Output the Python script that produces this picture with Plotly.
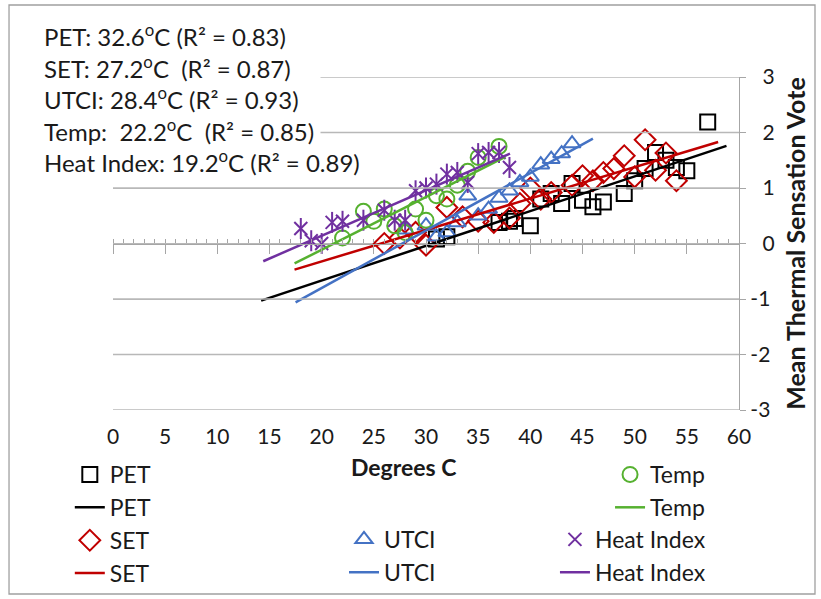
import plotly.graph_objects as go

# ---------------- data ----------------
pet_x = [31, 32, 37, 38, 38.5, 40, 41, 42, 43, 44, 45, 46, 47, 49, 50, 51, 52, 53, 54, 55, 57]
pet_y = [0.08, 0.12, 0.38, 0.40, 0.45, 0.32, 0.80, 0.90, 0.72, 1.08, 0.78, 0.66, 0.75, 0.90, 1.13, 1.35, 1.64, 1.50, 1.37, 1.31, 2.19]

set_x = [26, 27.5, 29, 30, 32, 33.5, 35, 36.5, 38, 39, 40, 41, 42, 44, 45, 46, 47, 48, 49, 50, 51, 52, 53, 54]
set_y = [0.0, 0.10, 0.20, -0.03, 0.65, 0.48, 0.40, 0.38, 0.46, 0.72, 1.0, 0.80, 0.92, 1.05, 1.22, 1.13, 1.28, 1.35, 1.58, 1.20, 1.87, 1.32, 1.63, 1.13]

utci_x = [28, 30, 31, 32, 33, 34, 35, 36, 37, 38, 39, 40, 41, 42, 43, 44]
utci_y = [0.25, 0.32, 0.12, 0.20, 0.38, 0.86, 0.50, 0.62, 0.82, 0.95, 1.10, 1.20, 1.42, 1.52, 1.62, 1.80]

temp_x = [22, 24, 25, 26, 27, 28, 29, 30, 31, 32, 33, 34, 35, 37]
temp_y = [0.10, 0.58, 0.40, 0.62, 0.32, 0.20, 0.62, 0.42, 0.86, 0.80, 1.05, 1.30, 1.55, 1.75]

hi_x = [18, 19, 20, 21, 22, 24, 26, 27, 28, 29, 30, 31, 32, 33, 34, 35, 36, 37, 38]
hi_y = [0.27, 0.05, 0.0, 0.38, 0.40, 0.42, 0.60, 0.42, 0.42, 0.95, 1.00, 1.07, 1.25, 1.28, 1.10, 1.62, 1.64, 1.64, 1.37]

# trend lines (start / end)
pet_trend_x = [14.2, 58.8]
pet_trend_y = [-1.03, 1.76]
set_trend_x = [17.4, 58.0]
set_trend_y = [-0.47, 1.83]
utci_trend_x = [17.5, 46.0]
utci_trend_y = [-1.06, 1.89]
temp_trend_x = [17.4, 37.6]
temp_trend_y = [-0.36, 1.56]
hi_trend_x = [14.4, 38.05]
hi_trend_y = [-0.32, 1.62]

summary_lines = [
    "PET: 32.6<sup>o</sup>C (R² = 0.83)",
    "SET: 27.2<sup>o</sup>C  (R² = 0.87)",
    "UTCI: 28.4<sup>o</sup>C (R² = 0.93)",
    "Temp:  22.2<sup>o</sup>C  (R² = 0.85)",
    "Heat Index: 19.2<sup>o</sup>C (R² = 0.89)",
]

x_ticks = list(range(0, 61, 5))
y_ticks = [-3, -2, -1, 0, 1, 2, 3]
y_tick_text = ["-3", "-2", "-1", "\u20070", "\u20071", "\u20072", "\u20073"]

# ---------------- styling ----------------
FONT = "Lato"
TXT = "#1a1a1a"
BLACK = "#000000"
RED = "#C00000"
BLUE = "#4472C4"
GREEN = "#56B130"
PURPLE = "#7030A0"
AXIS = "#A6A6A6"
GRID = "#B8B8B8"

fig = go.Figure()

def mk(x, y, name, symbol, color, size, legend, rank):
    return go.Scatter(x=x, y=y, mode="markers", name=name, legend=legend, legendrank=rank,
                      marker=dict(symbol=symbol, size=size, color=color,
                                  line=dict(color=color, width=2)))

def ln(x, y, name, color, legend, rank):
    return go.Scatter(x=x, y=y, mode="lines", name=name, legend=legend, legendrank=rank,
                      line=dict(color=color, width=2.5))

fig.add_trace(mk(pet_x, pet_y, "PET", "square-open", BLACK, 15, "legend", 1))
fig.add_trace(mk(set_x, set_y, "SET", "diamond-open", RED, 16, "legend", 3))
fig.add_trace(mk(utci_x, utci_y, "UTCI", "triangle-up-open", BLUE, 15, "legend2", 1))
fig.add_trace(mk(temp_x, temp_y, "Temp", "circle-open", GREEN, 15, "legend3", 1))
fig.add_trace(mk(hi_x, hi_y, "Heat Index", "x-thin-open", PURPLE, 13, "legend4", 1))
fig.add_trace(go.Scatter(x=hi_x, y=hi_y, mode="markers", showlegend=False, hoverinfo="skip",
                         marker=dict(symbol="line-ns-open", size=15, color=PURPLE,
                                     line=dict(color=PURPLE, width=2))))

fig.add_trace(ln(pet_trend_x, pet_trend_y, "PET", BLACK, "legend", 2))
fig.add_trace(ln(set_trend_x, set_trend_y, "SET", RED, "legend", 4))
fig.add_trace(ln(utci_trend_x, utci_trend_y, "UTCI", BLUE, "legend2", 2))
fig.add_trace(ln(temp_trend_x, temp_trend_y, "Temp", GREEN, "legend3", 2))
fig.add_trace(ln(hi_trend_x, hi_trend_y, "Heat Index", PURPLE, "legend4", 2))

lf = dict(family=FONT, size=23, color=TXT)
common_leg = dict(font=lf, bgcolor="rgba(0,0,0,0)", tracegroupgap=0, yanchor="top", xanchor="left",
                  traceorder="normal", itemclick=False, itemdoubleclick=False)

fig.update_layout(
    width=821, height=599,
    margin=dict(l=113, r=82, t=77, b=189, autoexpand=False),
    paper_bgcolor="white", plot_bgcolor="rgba(0,0,0,0)",
    font=dict(family=FONT, size=20, color=TXT),
    legend=dict(x=-0.069, y=-0.129, **common_leg),
    legend2=dict(x=0.369, y=-0.324, **common_leg),
    legend3=dict(x=0.794, y=-0.129, **common_leg),
    legend4=dict(x=0.706, y=-0.324, **common_leg),
    # horizontal axis drawn through y = 0, its labels pushed down to the bottom
    xaxis=dict(range=[0, 60], tickvals=x_ticks, anchor="free", position=0.5, side="bottom",
               showgrid=False, zeroline=False, showline=True, linecolor=AXIS, linewidth=1.3,
               ticks="outside", ticklen=9, tickwidth=1.3, tickcolor=AXIS,
               ticklabelstandoff=165,
               minor=dict(dtick=1, ticks="inside", ticklen=4, tickwidth=1, tickcolor=AXIS),
               tickfont=dict(family=FONT, size=21, color=TXT), fixedrange=True),
    yaxis=dict(range=[-3, 3], side="right", tickvals=y_ticks, ticktext=y_tick_text,
               showgrid=True, gridcolor=GRID, gridwidth=1, zeroline=False,
               showline=True, linecolor=AXIS, linewidth=1.3,
               ticks="outside", ticklen=6, tickcolor=AXIS,
               tickfont=dict(family=FONT, size=21, color=TXT),
               title=dict(text="<b>Mean Thermal Sensation Vote</b>",
                          font=dict(family=FONT, size=25, color=TXT), standoff=13),
               fixedrange=True),
)

# horizontal gridlines at every y tick (across the plot width)
for yv in y_ticks:
    if yv == 0:
        continue
    fig.add_shape(type="line", xref="paper", yref="y", x0=0, x1=1, y0=yv, y1=yv,
                  line=dict(color=GRID, width=1.3), layer="above")

# outer chart border
fig.add_shape(type="rect", xref="paper", yref="paper", x0=-0.1661, x1=1.1214, y0=-0.5526, y1=1.2162,
              fillcolor="rgba(0,0,0,0)", line=dict(color="#A0A0A0", width=1.3), layer="above")

# white box behind the summary text (hides the gridlines under it)
fig.add_annotation(text=" ", xref="paper", yref="paper", x=-0.115, y=0.70, xanchor="left",
                   yanchor="bottom", showarrow=False, width=276, height=130, bgcolor="white")

line_y = [1.125, 1.030, 0.937, 0.842, 0.748]
for txt, yy in zip(summary_lines, line_y):
    fig.add_annotation(text=txt, xref="paper", yref="paper", x=-0.1134, y=yy, xanchor="left",
                       yanchor="middle", showarrow=False, font=dict(family=FONT, size=24, color=TXT))

fig.add_annotation(text="<b>Degrees C</b>", xref="paper", yref="paper", x=0.465, y=-0.171,
                   xanchor="center", yanchor="middle", showarrow=False,
                   font=dict(family=FONT, size=23, color=TXT))

fig.write_html("out.html")
